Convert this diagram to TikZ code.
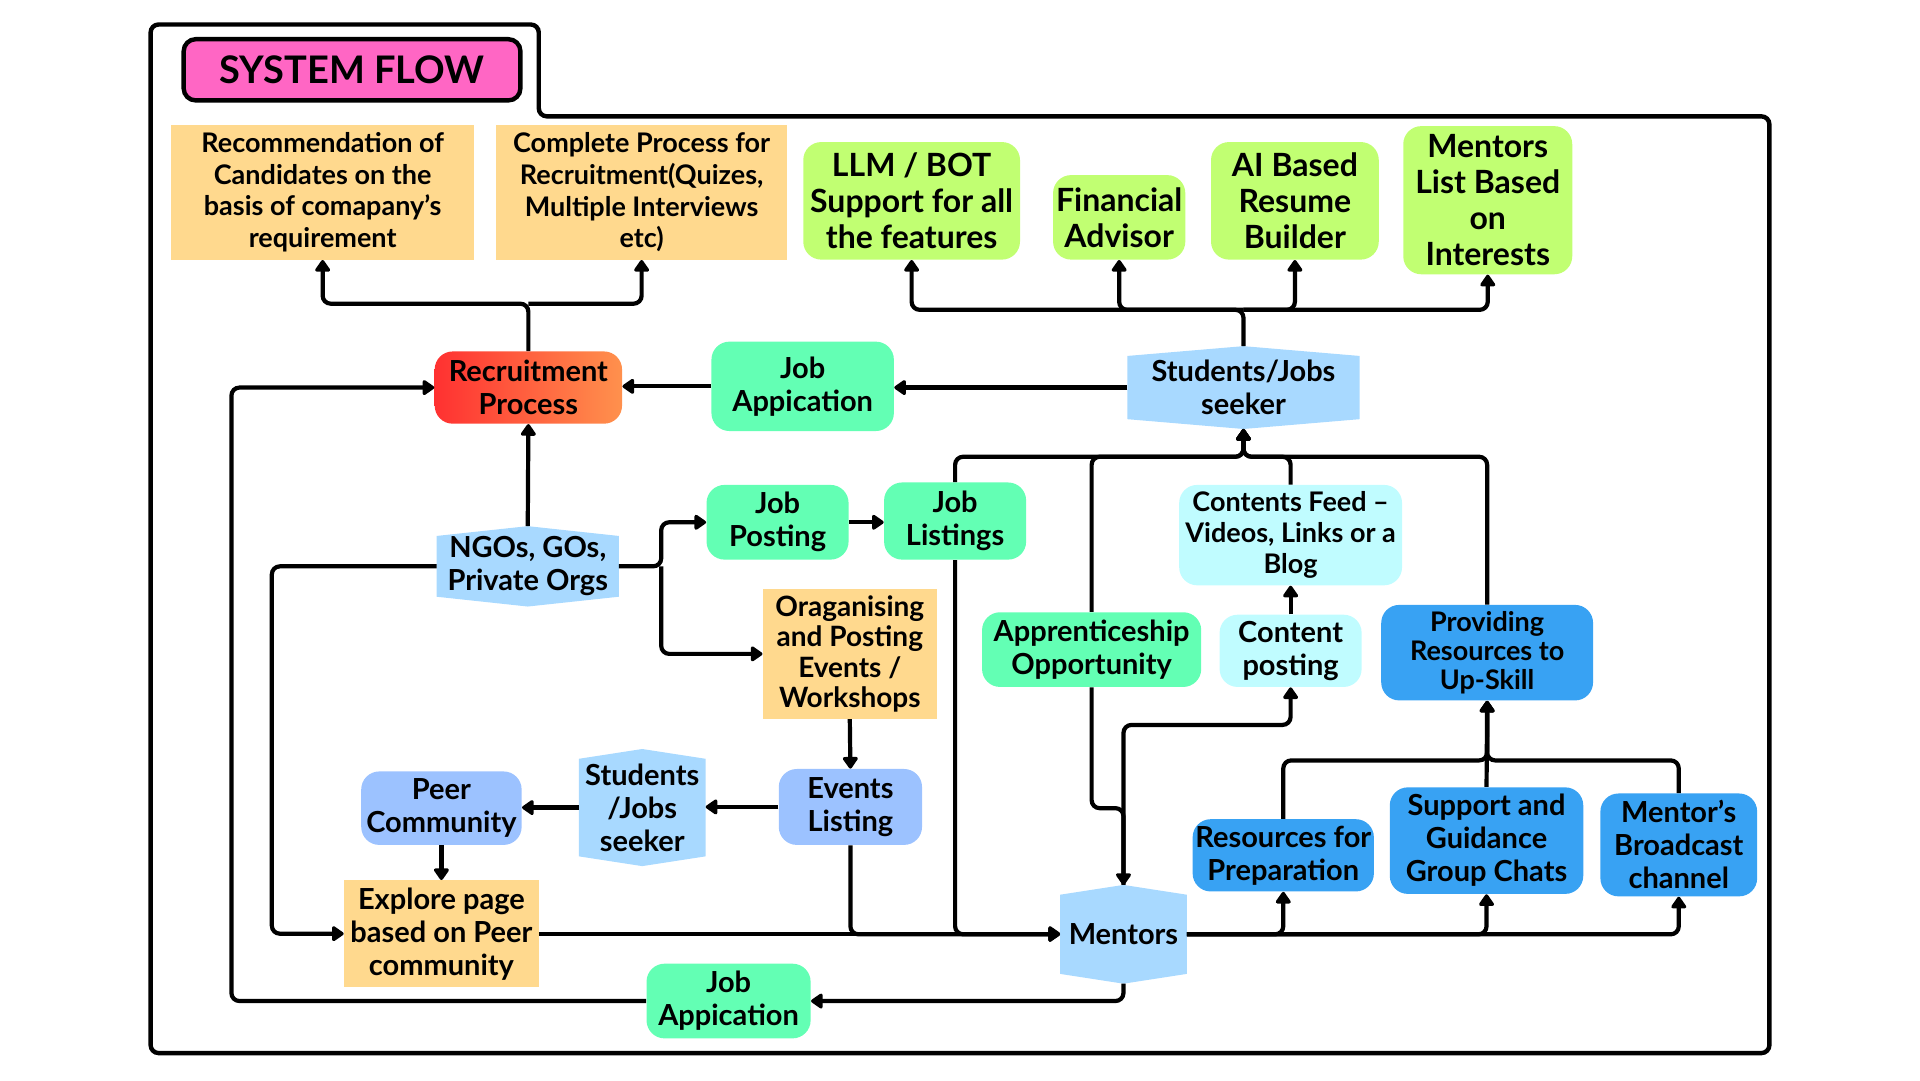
\documentclass[tikz,border=0pt]{standalone}
\usepackage{fontspec}
\setmainfont{Lato}
\usetikzlibrary{arrows.meta,backgrounds}
\definecolor{cOr}{HTML}{FFD98E}
\definecolor{cLime}{HTML}{C1FF72}
\definecolor{cMint}{HTML}{63FFB4}
\definecolor{cHex}{HTML}{A8D9FF}
\definecolor{cCyan}{HTML}{C0FCFF}
\definecolor{cPeri}{HTML}{9CC2FF}
\definecolor{cBlue}{HTML}{38A2F3}
\definecolor{cPink}{HTML}{FF66C4}
\definecolor{cRedL}{HTML}{FF3131}
\definecolor{cRedR}{HTML}{FF914D}
\newcommand\fsz[2]{\fontsize{#1}{#2}\selectfont}
\newcommand\bx[7]{%
  \pgfmathsetmacro\bxw{(#4-#2)*0.6123}%
  \pgfmathsetmacro\bxh{(#5-#3)*0.6123}%
  \node[base,#6,minimum width=\bxw pt,minimum height=\bxh pt] (#1) at ({(#2+#4)/2},{(#3+#5)/2}) {#7};}
\newcommand\hexbg[1]{%
  \begin{pgfonlayer}{background}
  \fill[cHex] ([yshift=-4.9pt]#1.north west) -- (#1.north) -- ([yshift=-4.9pt]#1.north east)
    -- ([yshift=4.9pt]#1.south east) -- (#1.south) -- ([yshift=4.9pt]#1.south west) -- cycle;
  \end{pgfonlayer}}
\tikzset{
  base/.style={align=center, inner sep=0pt, font=\bfseries\fsz{14.5}{16.5}},
  orng/.style={fill=cOr},
  lime/.style={fill=cLime, rounded corners=9pt, font=\bfseries\fsz{16}{18}},
  mint/.style={fill=cMint, rounded corners=9pt},
  cyanb/.style={fill=cCyan, rounded corners=9pt},
  peri/.style={fill=cPeri, rounded corners=9pt},
  blueb/.style={fill=cBlue, rounded corners=9pt},
  grad/.style={left color=cRedL, right color=cRedR, rounded corners=9pt},
  hexn/.style={},
  ln/.style={line width=2.1pt, rounded corners=4pt},
  arr/.style={ln, -{Triangle[length=6.5pt,width=8.5pt,round]}}
}
\begin{document}
\begin{tikzpicture}[x=0.6123pt,y=-0.6123pt]
\useasboundingbox (0,0) rectangle (1568,882);
% frame
\draw[line width=2.2pt, rounded corners=4pt] (123,20) -- (440,20) -- (440,95) -- (1445,95) -- (1445,860) -- (123,860) -- cycle;
\bx{title}{150}{32}{425}{82}{draw, line width=2.2pt, fill=cPink, rounded corners=6pt, font=\bfseries\fsz{19}{22}}{SYSTEM FLOW}
% nodes
\bx{r1}{140}{102}{387}{212}{orng, font=\bfseries\fsz{13.5}{15.9}}{Recommendation of\\Candidates on the\\basis of comapany’s\\requirement}
\bx{r2}{405}{102}{643}{212}{orng, font=\bfseries\fsz{13.5}{15.9}}{Complete Process for\\Recruitment(Quizes,\\Multiple Interviews\\etc)}
\bx{g1}{656}{116}{833}{212}{lime}{LLM / BOT\\Support for all\\the features}
\bx{g2}{860}{143}{968}{212}{lime}{Financial\\Advisor}
\bx{g3}{989}{116}{1126}{212}{lime}{AI Based\\Resume\\Builder}
\bx{g4}{1146}{103}{1284}{224}{lime}{Mentors\\List Based\\on\\Interests}
\bx{rec}{355}{287}{508}{346}{grad}{Recruitment\\Process}
\bx{ja1}{581}{279}{730}{352}{mint}{Job\\Appication}
\bx{stu}{921}{283}{1110}{350}{hexn}{Students/Jobs\\seeker}
\bx{ngo}{357}{430}{505}{495}{hexn}{NGOs, GOs,\\Private Orgs}
\bx{jp}{577}{396}{693}{457}{mint}{Job\\Posting}
\bx{jl}{722}{394}{838}{457}{mint}{Job\\Listings}
\bx{cf}{963}{396}{1145}{478}{cyanb, font=\bfseries\fsz{13.5}{15.6}}{Contents Feed –\\Videos, Links or a\\Blog}
\bx{org}{623}{481}{765}{587}{orng, font=\bfseries\fsz{14}{15.3}}{Oraganising\\and Posting\\Events /\\Workshops}
\bx{appr}{802}{500}{981}{561}{mint}{Apprenticeship\\Opportunity}
\bx{cp}{996}{502}{1112}{561}{cyanb}{Content\\posting}
\bx{prov}{1128}{494}{1301}{572}{blueb, font=\bfseries\fsz{13.5}{14.7}}{Providing\\Resources to\\Up-Skill}
\bx{evl}{636}{628}{753}{690}{peri}{Events\\Listing}
\bx{stu2}{473}{612}{576}{707}{hexn}{Students\\/Jobs\\seeker}
\bx{peer}{295}{630}{426}{690}{peri}{Peer\\Community}
\bx{exp}{281}{719}{440}{806}{orng}{Explore page\\based on Peer\\community}
\bx{res}{974}{669}{1122}{728}{blueb}{Resources for\\Preparation}
\bx{sup}{1135}{643}{1293}{730}{blueb}{Support and\\Guidance\\Group Chats}
\bx{mbc}{1307}{648}{1435}{732}{blueb}{Mentor’s\\Broadcast\\channel}
\bx{men}{866}{723}{969}{803}{hexn}{Mentors}
\bx{ja2}{528}{787}{662}{848}{mint}{Job\\Appication}
\hexbg{stu}\hexbg{ngo}\hexbg{stu2}\hexbg{men}
% connectors
\draw[arr] (rec.north) -- (rec.north |- 0,248) -| (r1.south);
\draw[arr] (rec.north |- 0,248) -| (r2.south);
\draw[arr] (stu.north) -- (stu.north |- 0,253) -| (g1.south);
\draw[arr] (stu.north |- 0,253) -| (g2.south);
\draw[arr] (stu.north |- 0,253) -| (g3.south);
\draw[arr] (stu.north |- 0,253) -| (g4.south);
\draw[arr] (stu.west) -- (stu.west -| ja1.east);
\draw[arr] (ja1.west) -- (ja1.west -| rec.east);
\draw[arr] (ngo.north) -- (rec.south);
\draw[arr] (ja2.west) -- (ja2.west -| 189,0) |- (rec.west);
\draw[arr] (men.south) |- (ja2.east);
\draw[arr] (ngo.west) -- (ngo.west -| 222,0) |- (exp.west);
\draw[arr] (ngo.east) -- (ngo.east -| 540,0) |- (jp.west);
\draw[arr] (ngo.east -| 540,0) |- (org.west);
\draw[arr] (jp.east) -- (jp.east -| jl.west);
\draw[arr] (org.south) -- (evl.north);
\draw[arr] (evl.west) -- (evl.west -| stu2.east);
\draw[arr] (stu2.west) -- (stu2.west -| peer.east);
\draw[arr] (peer.south) -- (exp.north);
\draw[arr] (exp.east) -- (exp.east -| men.west);
\draw[arr] (evl.south) |- (men.west);
\draw[arr] (jl.south) |- (men.west);
\draw[arr] (jl.north) -- (jl.north |- 0,373) -| (stu.south);
\draw[arr] (appr.north) -- (appr.north |- 0,373) -| (stu.south);
\draw[arr] (cf.north) -- (cf.north |- 0,373) -| (stu.south);
\draw[arr] (prov.north) -- (prov.north |- 0,373) -| (stu.south);
\draw[arr] (appr.south) -- (appr.south |- 0,660) -| (men.north);
\draw[arr] (men.north) -- (men.north |- 0,592) -| (cp.south);
\draw[arr] (cp.north) -- (cf.south);
\draw[arr] (sup.north) -- (prov.south);
\draw[arr] (res.north) -- (res.north |- 0,621) -| (prov.south);
\draw[arr] (mbc.north) -- (mbc.north |- 0,621) -| (prov.south);
\draw[arr] (men.east) -| (res.south);
\draw[arr] (men.east) -| (sup.south);
\draw[arr] (men.east) -| (mbc.south);
\end{tikzpicture}
\end{document}
